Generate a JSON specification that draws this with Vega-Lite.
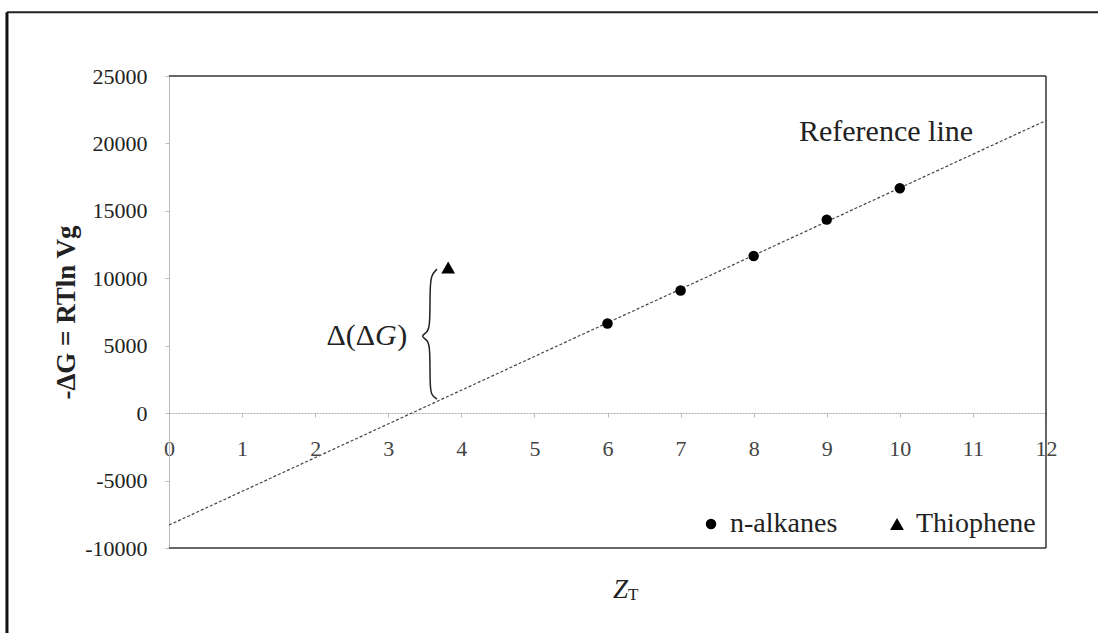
{
  "$schema": "https://vega.github.io/schema/vega-lite/v6.json",
  "width": 877,
  "height": 472,
  "autosize": {"type": "none"},
  "padding": {"left": 169, "top": 76, "right": 52, "bottom": 85},
  "background": "white",
  "config": {
    "view": {"stroke": null},
    "font": "Liberation Serif",
    "axis": {"labelFont": "Liberation Serif", "titleFont": "Liberation Serif"},
    "legend": {"labelFont": "Liberation Serif"},
    "text": {"font": "Liberation Serif"}
  },
  "encoding": {
    "x": {
      "field": "x", "type": "quantitative",
      "scale": {"domain": [0, 12], "nice": false, "zero": false},
      "axis": {
        "values": [0, 1, 2, 3, 4, 5, 6, 7, 8, 9, 10, 11, 12],
        "offset": -135, "grid": false, "domainColor": "#aaa", "domainDash": [2, 1],
        "tickColor": "#bbb", "tickSize": 4, "labelPadding": 21, "labelFontSize": 22,
        "labelFont": "Liberation Serif", "labelColor": "#444", "title": null, "labelFlush": false
      }
    },
    "y": {
      "field": "y", "type": "quantitative",
      "scale": {"domain": [-10000, 25000], "nice": false, "zero": false},
      "axis": {
        "values": [-10000, -5000, 0, 5000, 10000, 15000, 20000, 25000],
        "grid": false, "domainColor": "#bbb", "tickColor": "#bbb", "tickSize": 4,
        "labelPadding": 18, "labelFontSize": 22, "labelFont": "Liberation Serif", "labelColor": "#222",
        "labelExpr": "'' + datum.value",
        "title": "-ΔG = RTln Vg", "titleFont": "Liberation Serif", "titleFontSize": 27,
        "titleFontWeight": "bold", "titleColor": "#222", "titlePadding": 4
      }
    }
  },
  "layer": [
    {
      "data": {"values": [
        {"x": 0, "y": 25000, "x2": 12, "y2": 25000},
        {"x": 0, "y": -10000, "x2": 12, "y2": -10000},
        {"x": 12, "y": -10000, "x2": 12, "y2": 25000}
      ]},
      "mark": {"type": "rule", "color": "#333", "strokeWidth": 1.5},
      "encoding": {"x2": {"field": "x2"}, "y2": {"field": "y2"}}
    },
    {
      "data": {"values": [
        {"x": -2.217, "y": 29735, "x2": -2.217, "y2": -16300}
      ]},
      "mark": {"type": "rule", "color": "#111", "strokeWidth": 3},
      "encoding": {"x2": {"field": "x2"}, "y2": {"field": "y2"}}
    },
    {
      "data": {"values": [
        {"x": -2.217, "y": 29735, "x2": 12.75, "y2": 29735}
      ]},
      "mark": {"type": "rule", "color": "#222", "strokeWidth": 2},
      "encoding": {"x2": {"field": "x2"}, "y2": {"field": "y2"}}
    },
    {
      "data": {"values": [
        {"x": 0, "y": -8300},
        {"x": 12, "y": 21700}
      ]},
      "mark": {"type": "line", "color": "#444", "strokeWidth": 1.2, "strokeDash": [3, 2]},
      "encoding": {}
    },
    {
      "data": {"values": [
        {"i": 0, "x": 3.667, "y": 10678},
        {"i": 1, "x": 3.585, "y": 10233},
        {"i": 2, "x": 3.571, "y": 9195},
        {"i": 3, "x": 3.571, "y": 6600},
        {"i": 4, "x": 3.544, "y": 6006},
        {"i": 5, "x": 3.434, "y": 5710},
        {"i": 6, "x": 3.544, "y": 5413},
        {"i": 7, "x": 3.571, "y": 4820},
        {"i": 8, "x": 3.571, "y": 2150},
        {"i": 9, "x": 3.585, "y": 1335},
        {"i": 10, "x": 3.667, "y": 1038}
      ]},
      "mark": {"type": "line", "color": "#222", "strokeWidth": 1.5, "interpolate": "basis"},
      "encoding": {"order": {"field": "i", "type": "quantitative"}}
    },
    {
      "data": {"values": [
        {"series": "n-alkanes", "x": 6, "y": 6650},
        {"series": "n-alkanes", "x": 7, "y": 9100},
        {"series": "n-alkanes", "x": 8, "y": 11650},
        {"series": "n-alkanes", "x": 9, "y": 14350},
        {"series": "n-alkanes", "x": 10, "y": 16680},
        {"series": "Thiophene", "x": 3.82, "y": 10800}
      ]},
      "mark": {"type": "point", "filled": true, "color": "black", "opacity": 1},
      "encoding": {
        "shape": {
          "field": "series", "type": "nominal",
          "scale": {"domain": ["n-alkanes", "Thiophene"], "range": ["circle", "triangle-up"]},
          "legend": {
            "orient": "bottom-right", "direction": "horizontal", "title": null,
            "labelFont": "Liberation Serif", "labelFontSize": 28, "labelColor": "#222",
            "symbolFillColor": "black", "symbolStrokeColor": "black",
            "offset": 10, "padding": 0, "columnPadding": 45, "labelOffset": 5
          }
        },
        "size": {
          "field": "series", "type": "nominal",
          "scale": {"domain": ["n-alkanes", "Thiophene"], "range": [110, 190]},
          "legend": {
            "orient": "bottom-right", "direction": "horizontal", "title": null,
            "labelFont": "Liberation Serif", "labelFontSize": 28, "labelColor": "#222",
            "symbolFillColor": "black", "symbolStrokeColor": "black",
            "offset": 10, "padding": 0, "columnPadding": 45, "labelOffset": 5
          }
        }
      }
    },
    {
      "data": {"values": [{"x": 8.62, "y": 20170, "label": "Reference line"}]},
      "mark": {"type": "text", "align": "left", "baseline": "alphabetic", "fontSize": 30, "color": "#222", "font": "Liberation Serif"},
      "encoding": {"text": {"field": "label"}}
    },
    {
      "data": {"values": [{"x": 2.82, "y": 5710, "label": "Δ(Δ"}]},
      "mark": {"type": "text", "align": "right", "baseline": "middle", "fontSize": 30, "color": "#222", "font": "Liberation Serif"},
      "encoding": {"text": {"field": "label"}}
    },
    {
      "data": {"values": [{"x": 2.82, "y": 5710, "label": "G"}]},
      "mark": {"type": "text", "align": "left", "baseline": "middle", "fontSize": 30, "fontStyle": "italic", "color": "#222", "font": "Liberation Serif"},
      "encoding": {"text": {"field": "label"}}
    },
    {
      "data": {"values": [{"x": 3.26, "y": 5710, "label": ")"}]},
      "mark": {"type": "text", "align": "right", "baseline": "middle", "fontSize": 30, "color": "#222", "font": "Liberation Serif"},
      "encoding": {"text": {"field": "label"}}
    },
    {
      "data": {"values": [{"x": 6.075, "y": -13120, "label": "Z"}]},
      "mark": {"type": "text", "align": "left", "baseline": "middle", "fontSize": 27, "fontStyle": "italic", "color": "#222", "font": "Liberation Serif"},
      "encoding": {"text": {"field": "label"}}
    },
    {
      "data": {"values": [{"x": 6.28, "y": -13450, "label": "T"}]},
      "mark": {"type": "text", "align": "left", "baseline": "middle", "fontSize": 17, "color": "#222", "font": "Liberation Serif"},
      "encoding": {"text": {"field": "label"}}
    }
  ]
}
